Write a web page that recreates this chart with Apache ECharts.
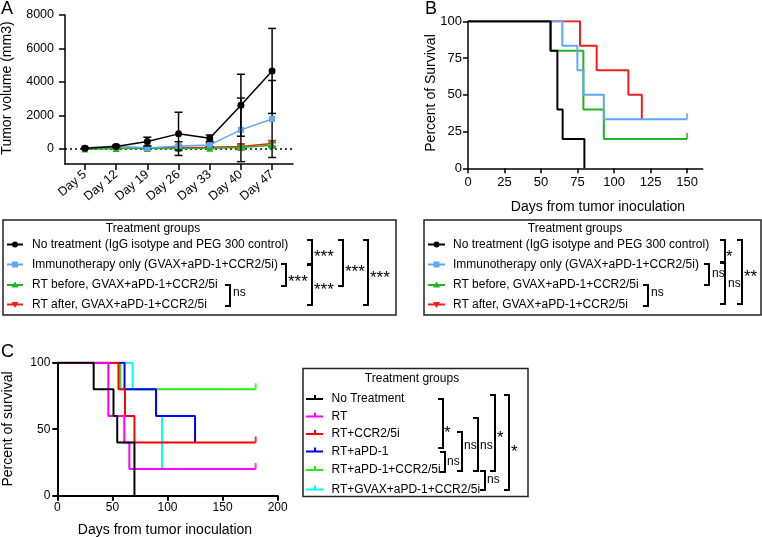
<!DOCTYPE html>
<html><head><meta charset="utf-8">
<script src="https://cdn.jsdelivr.net/npm/echarts@6/dist/echarts.min.js"></script>
<style>html,body{margin:0;padding:0;background:#fff}#c{width:762px;height:537px}</style>
</head><body><div id="c"></div>
<script>
const FONT = '"Liberation Sans", Arial, Helvetica, sans-serif';

// ---------- Panel A: tumor volume ----------
const daysA = ['Day 5', 'Day 12', 'Day 19', 'Day 26', 'Day 33', 'Day 40', 'Day 47'];
const aTicksY = [0, 2000, 4000, 6000, 8000];
const aNoTreat = [40, 150, 440, 900, 640, 2610, 4660];
const aNoTreatSD = [30, 60, 260, 1290, 190, 1850, 2540];
const aImmuno = [60, 180, 60, 180, 240, 1140, 1790];
const aImmunoSD = [30, 40, 60, 250, 120, 1900, 2300];
const aRTBefore = [0, 20, 20, 30, 40, 80, 220];
const aRTBeforeSD = [10, 20, 20, 40, 40, 120, 150];
const aRTAfter = [10, 40, 60, 90, 100, 140, 330];
const aRTAfterSD = [10, 20, 20, 40, 40, 150, 170];

// ---------- Panel B: survival ----------
const bTicksX = [0, 25, 50, 75, 100, 125, 150];
const bTicksY = [0, 25, 50, 75, 100];
const bNoTreat = [[0, 100], [56.6, 80], [61.2, 40], [64.8, 20], [79.7, 0]];
const bImmuno = [[0, 100], [64.6, 83.3], [74.9, 66.7], [79, 50], [93, 33.3], [150, 33.3]];
const bRTBefore = [[0, 100], [56.3, 80], [79, 40], [93, 20], [150, 20]];
const bRTAfter = [[0, 100], [76.7, 83.3], [88.1, 66.7], [109.8, 50], [119, 33.3]];
const bCensorImmuno = [[150, 33.3]];
const bCensorRTBefore = [[150, 20]];

// ---------- Panel C: survival ----------
const cTicksX = [0, 50, 100, 150, 200];
const cTicksY = [0, 50, 100];
const cNoTreat = [[0, 100], [33, 80], [51, 60], [54.4, 40], [70, 0]];
const cRT = [[0, 100], [46.3, 60], [60.8, 40], [65.4, 20], [180, 20]];
const cRTCCR = [[0, 100], [55.5, 80], [61.4, 60], [70, 40], [180, 40]];
const cRTaPD = [[0, 100], [61, 80], [89.6, 60], [125, 40]];
const cRTaPDCCR = [[0, 100], [57, 80], [180, 80]];
const cRTGVAX = [[0, 100], [68.4, 80], [89.6, 60], [95, 20]];
const cCensorRT = [[180, 20]];
const cCensorRTCCR = [[180, 40]];
const cCensorRTaPDCCR = [[180, 80]];

// colours
const BLACK = '#000000', LBLUE = '#5fa8f5', GREEN = '#22b422', RED = '#f01e1e';
const MAG = '#ff00ff', CRED = '#ff0000', CBLUE = '#0000ff', CGREEN = '#22ee11', CYAN = '#00ffff';

const chart = echarts.init(document.getElementById('c'), null, {renderer: 'canvas'});

function axisBase(w) {
  return {
    axisLine: {show: true, onZero: false, lineStyle: {color: '#000', width: w}},
    splitLine: {show: false},
  };
}

function errSeries(mean, sd, color, z) {
  return {
    type: 'custom', xAxisIndex: 0, yAxisIndex: 0, z: z, silent: true,
    data: mean.map((m, i) => [i, m - sd[i], m + sd[i]]),
    encode: {x: 0, y: [1, 2]},
    renderItem: function (params, api) {
      const x = api.value(0);
      const lo = api.coord([x, api.value(1)]);
      const hi = api.coord([x, api.value(2)]);
      const w = 4;
      const st = {stroke: color, lineWidth: 1.5};
      return {type: 'group', children: [
        {type: 'line', shape: {x1: lo[0], y1: lo[1], x2: hi[0], y2: hi[1]}, style: st},
        {type: 'line', shape: {x1: lo[0] - w, y1: lo[1], x2: lo[0] + w, y2: lo[1]}, style: st},
        {type: 'line', shape: {x1: hi[0] - w, y1: hi[1], x2: hi[0] + w, y2: hi[1]}, style: st}
      ]};
    }
  };
}

function lineA(vals, color, symbol, size, rot, z) {
  return {
    type: 'line', xAxisIndex: 0, yAxisIndex: 0, z: z, silent: true,
    data: vals.map((v, i) => [i, v]),
    symbol: symbol, symbolSize: size, symbolRotate: rot || 0, showSymbol: true,
    lineStyle: {color: color, width: 1.5}, itemStyle: {color: color},
    animation: false
  };
}

function kmLine(data, color, xi, z) {
  return {
    type: 'line', xAxisIndex: xi, yAxisIndex: xi, z: z, silent: true,
    data: data, step: 'end', symbol: 'none',
    lineStyle: {color: color, width: 2}, animation: false
  };
}
function censor(data, color, xi, z) {
  return {
    type: 'scatter', xAxisIndex: xi, yAxisIndex: xi, z: z, silent: true,
    data: data, symbol: 'rect', symbolSize: [2, 6], symbolOffset: [0, -3],
    itemStyle: {color: color}, animation: false
  };
}

// ---------- graphic: titles, legends, brackets ----------
const g = [];
function txt(x, y, text, size, align, extra) {
  const o = {type: 'text', x: x, y: y, silent: true,
    style: {text: text, fill: '#000', fontSize: size, fontFamily: FONT, align: align || 'left', verticalAlign: 'middle'}};
  if (extra) Object.assign(o, extra);
  g.push(o);
}
function box(x, y, w, h) {
  g.push({type: 'rect', shape: {x: x, y: y, width: w, height: h}, silent: true,
    style: {fill: 'none', stroke: '#222', lineWidth: 1.5}});
}
// ly = visual centre of the label
function bracket(x, y1, y2, label, lx, ly) {
  g.push({type: 'polyline', silent: true, shape: {points: [[x - 5, y1], [x, y1], [x, y2], [x - 5, y2]]},
    style: {fill: 'none', stroke: '#000', lineWidth: 2}});
  if (label.indexOf('*') >= 0) txt(lx, ly + 5, label, 17, 'left');
  else txt(lx, ly, label, 12, 'left');
}
function legLine(x1, x2, y, color) {
  g.push({type: 'line', silent: true, shape: {x1: x1, y1: y, x2: x2, y2: y}, style: {stroke: color, lineWidth: 2}});
}
function legSym(cx, cy, kind, color) {
  if (kind === 'circle') g.push({type: 'circle', silent: true, shape: {cx: cx, cy: cy, r: 3}, style: {fill: color}});
  else if (kind === 'rect') g.push({type: 'rect', silent: true, shape: {x: cx - 3, y: cy - 3, width: 6, height: 6}, style: {fill: color}});
  else if (kind === 'up') g.push({type: 'polygon', silent: true, shape: {points: [[cx, cy - 3.5], [cx + 3.5, cy + 2.5], [cx - 3.5, cy + 2.5]]}, style: {fill: color}});
  else if (kind === 'down') g.push({type: 'polygon', silent: true, shape: {points: [[cx, cy + 3.5], [cx + 3.5, cy - 2.5], [cx - 3.5, cy - 2.5]]}, style: {fill: color}});
  else if (kind === 'tick') g.push({type: 'rect', silent: true, shape: {x: cx - 1, y: cy - 4, width: 2, height: 4}, style: {fill: color}});
}

// panel letters
txt(1, 9, 'A', 18, 'left');
txt(425, 9, 'B', 18, 'left');
txt(1, 352, 'C', 18, 'left');

// axis titles
txt(7, 88, 'Tumor volume (mm3)', 14, 'center', {rotation: Math.PI / 2});
txt(431, 93, 'Percent of Survival', 14, 'center', {rotation: Math.PI / 2});
txt(598, 207, 'Days from tumor inoculation', 14, 'center');
txt(8, 429, 'Percent of survival', 14, 'center', {rotation: Math.PI / 2});
txt(165, 530, 'Days from tumor inoculation', 14, 'center');

// Legend A
const legNamesAB = ['No treatment (IgG isotype and PEG 300 control)', 'Immunotherapy only (GVAX+aPD-1+CCR2/5i)',
  'RT before, GVAX+aPD-1+CCR2/5i', 'RT after, GVAX+aPD-1+CCR2/5i'];
const legColorsAB = [BLACK, LBLUE, GREEN, RED];
const legSymsAB = ['circle', 'rect', 'up', 'down'];
const legYAB = [244.5, 264.5, 285, 304.5];
box(3, 220, 393, 95);
txt(153, 229, 'Treatment groups', 12, 'center');
legNamesAB.forEach((n, i) => {
  legLine(7, 23, legYAB[i], legColorsAB[i]);
  legSym(15, legYAB[i], legSymsAB[i], legColorsAB[i]);
  txt(32, legYAB[i], n, 12, 'left');
});
bracket(230, 285, 306, 'ns', 233, 293);
bracket(286, 264, 286, '***', 288, 277);
bracket(312, 240, 264, '***', 314, 252);
bracket(312, 265, 305, '***', 314, 285);
bracket(343, 240, 286, '***', 345, 267);
bracket(368, 240, 305, '***', 370, 273);

// Legend B
box(424, 220, 337, 95);
txt(575, 229, 'Treatment groups', 12, 'center');
legNamesAB.forEach((n, i) => {
  legLine(428, 445, legYAB[i], legColorsAB[i]);
  legSym(436.5, legYAB[i], legSymsAB[i], legColorsAB[i]);
  txt(453, legYAB[i], n, 12, 'left');
});
bracket(648, 285, 306, 'ns', 651, 293);
bracket(709, 264, 285, 'ns', 712, 274);
bracket(725, 240, 262, '*', 726, 252);
bracket(725, 263, 304, 'ns', 728, 284);
bracket(742, 240, 304, '**', 744, 272);

// Legend C
const legNamesC = ['No Treatment', 'RT', 'RT+CCR2/5i', 'RT+aPD-1', 'RT+aPD-1+CCR2/5i', 'RT+GVAX+aPD-1+CCR2/5i'];
const legColorsC = [BLACK, MAG, CRED, CBLUE, CGREEN, CYAN];
const legYC = [399, 416.5, 434, 451.5, 470, 489.5];
box(303, 368.5, 225, 128);
txt(412, 379, 'Treatment groups', 12, 'center');
legNamesC.forEach((n, i) => {
  legLine(306, 323, legYC[i], legColorsC[i]);
  legSym(315, legYC[i], 'tick', legColorsC[i]);
  txt(331.5, legYC[i], n, 12, 'left');
});
bracket(443, 399, 448, '*', 444, 428);
bracket(445, 452, 472, 'ns', 447, 462);
bracket(462, 432, 471, 'ns', 464, 446);
bracket(478, 418, 471, 'ns', 480, 446);
bracket(485, 471, 490, 'ns', 487, 480);
bracket(495, 395, 471, '*', 497, 433);
bracket(509, 395, 490, '*', 511, 447);

const plain = v => String(v);

const option = {
  animation: false,
  backgroundColor: '#fff',
  textStyle: {fontFamily: FONT},
  grid: [
    {left: 65, top: 15, width: 228, height: 149, outerBoundsMode: 'none', containLabel: false},
    {left: 468, top: 21.3, width: 234.7, height: 147, outerBoundsMode: 'none', containLabel: false},
    {left: 57.3, top: 362.7, width: 220.4, height: 133, outerBoundsMode: 'none', containLabel: false}
  ],
  xAxis: [
    Object.assign(axisBase(1.5), {
      gridIndex: 0, type: 'value', min: -0.64, max: 6.67,
      axisTick: {show: true, length: 6, lineStyle: {color: '#000', width: 1.5}, customValues: daysA.map((d, i) => i)},
      axisLabel: {show: true, customValues: daysA.map((d, i) => i), formatter: v => daysA[Math.round(v)],
        rotate: 40, fontSize: 12.5, color: '#000', fontFamily: FONT, margin: 9}
    }),
    Object.assign(axisBase(1.5), {
      gridIndex: 1, type: 'value', min: 0, max: 160.7,
      axisTick: {show: true, length: 5, lineStyle: {color: '#000', width: 1.5}, customValues: bTicksX},
      axisLabel: {show: true, customValues: bTicksX, formatter: plain, fontSize: 13, color: '#000', fontFamily: FONT, margin: 8}
    }),
    Object.assign(axisBase(2), {
      gridIndex: 2, type: 'value', min: 0, max: 200,
      axisTick: {show: true, length: 5, lineStyle: {color: '#000', width: 2}, customValues: cTicksX},
      axisLabel: {show: true, customValues: cTicksX, formatter: plain, fontSize: 12, color: '#000', fontFamily: FONT, margin: 6}
    })
  ],
  yAxis: [
    Object.assign(axisBase(1.5), {
      gridIndex: 0, type: 'value', min: -900, max: 8000,
      axisTick: {show: true, length: 6, lineStyle: {color: '#000', width: 1.5}, customValues: aTicksY},
      axisLabel: {show: true, customValues: aTicksY, formatter: plain, fontSize: 12.5, color: '#000', fontFamily: FONT, margin: 11}
    }),
    Object.assign(axisBase(1.5), {
      gridIndex: 1, type: 'value', min: 0, max: 100,
      axisTick: {show: true, length: 5, lineStyle: {color: '#000', width: 1.5}, customValues: bTicksY},
      axisLabel: {show: true, customValues: bTicksY, formatter: plain, fontSize: 13, color: '#000', fontFamily: FONT, margin: 6}
    }),
    Object.assign(axisBase(2), {
      gridIndex: 2, type: 'value', min: 0, max: 100,
      axisTick: {show: true, length: 5, lineStyle: {color: '#000', width: 2}, customValues: cTicksY},
      axisLabel: {show: true, customValues: cTicksY, formatter: plain, fontSize: 12, color: '#000', fontFamily: FONT, margin: 7}
    })
  ],
  series: [
    // Panel A
    Object.assign(lineA(aRTAfter, RED, 'triangle', 7, 180, 2), {
      markLine: {silent: true, symbol: 'none', label: {show: false},
        lineStyle: {color: '#000', type: [2, 3], width: 1.5}, data: [{yAxis: 0}], z: 1}
    }),
    errSeries(aRTAfter, aRTAfterSD, RED, 2),
    lineA(aRTBefore, GREEN, 'triangle', 7, 0, 3),
    errSeries(aRTBefore, aRTBeforeSD, GREEN, 3),
    errSeries(aImmuno, aImmunoSD, '#111', 4),
    lineA(aImmuno, LBLUE, 'rect', 6, 0, 5),
    errSeries(aNoTreat, aNoTreatSD, BLACK, 6),
    lineA(aNoTreat, BLACK, 'circle', 7, 0, 6),
    // Panel B
    kmLine(bRTAfter, RED, 1, 2),
    kmLine(bRTBefore, GREEN, 1, 3),
    censor(bCensorRTBefore, GREEN, 1, 3),
    kmLine(bImmuno, LBLUE, 1, 4),
    censor(bCensorImmuno, LBLUE, 1, 4),
    kmLine(bNoTreat, BLACK, 1, 5),
    // Panel C
    kmLine(cRTGVAX, CYAN, 2, 2),
    kmLine(cRTaPDCCR, CGREEN, 2, 3),
    censor(cCensorRTaPDCCR, CGREEN, 2, 3),
    kmLine(cRTaPD, CBLUE, 2, 4),
    kmLine(cRTCCR, CRED, 2, 5),
    censor(cCensorRTCCR, CRED, 2, 5),
    kmLine(cRT, MAG, 2, 6),
    censor(cCensorRT, MAG, 2, 6),
    kmLine(cNoTreat, BLACK, 2, 7)
  ],
  graphic: {elements: g}
};
chart.setOption(option);
</script>
</body></html>
